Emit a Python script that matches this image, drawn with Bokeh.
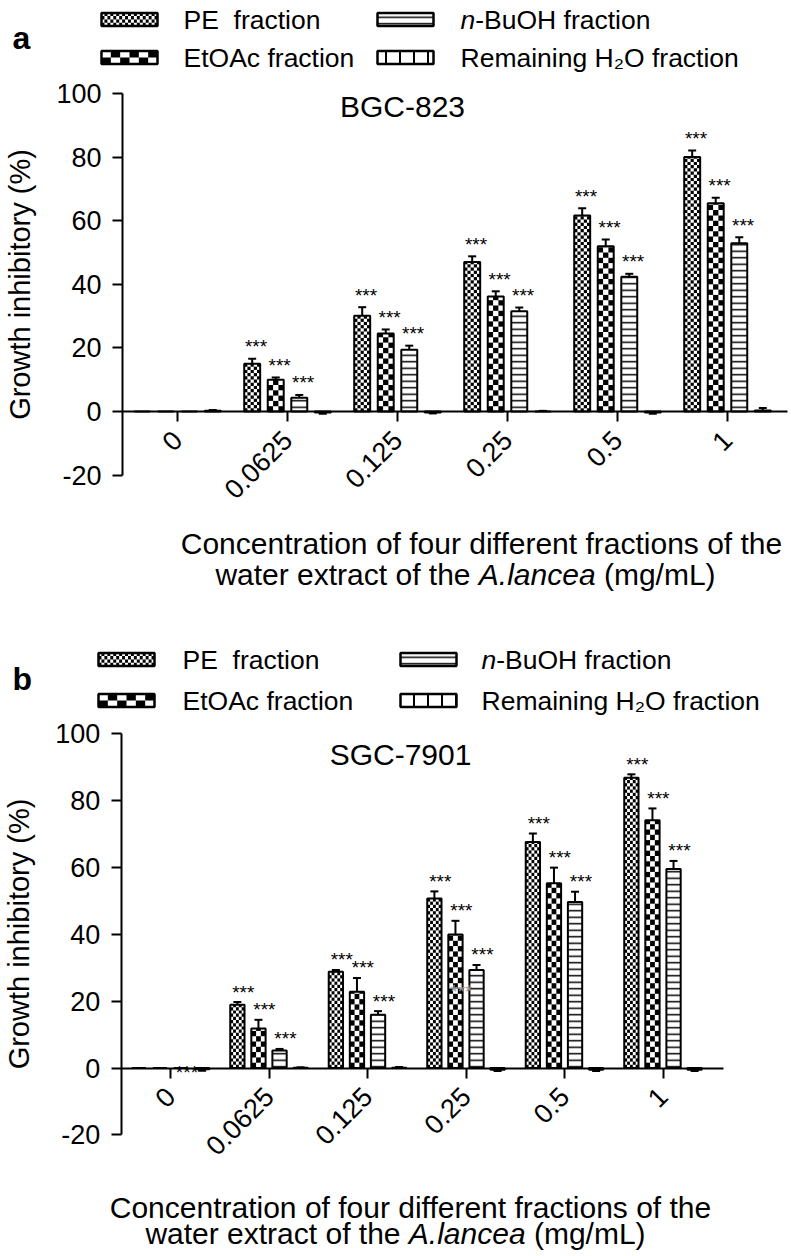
import math
from bokeh.plotting import figure
from bokeh.models import (Range1d, FixedTicker, Label, Whisker, TeeHead, ColumnDataSource)
from bokeh.layouts import column
from bokeh.core.properties import value
from bokeh.embed import file_html
from bokeh.resources import INLINE

# ---------------- data ----------------
categories = ["0", "0.0625", "0.125", "0.25", "0.5", "1"]
series_names = ["PE\u00a0 fraction", "EtOAc fraction", "n-BuOH fraction",
                "Remaining H\u2082O fraction"]

# panel a : BGC-823
pe_a = [0, 15.0, 30.1, 47.0, 61.6, 80.0]
pe_a_err = [0, 1.6, 2.7, 1.8, 2.3, 2.1]
etoac_a = [0, 10.0, 24.5, 36.2, 52.0, 65.5]
etoac_a_err = [0, 0.7, 1.3, 1.6, 2.1, 1.7]
buoh_a = [0, 4.3, 19.4, 31.5, 42.4, 52.9]
buoh_a_err = [0, 0.9, 1.3, 1.2, 0.9, 1.9]
h2o_a = [0.2, -0.3, -0.3, 0.0, -0.3, 0.3]
h2o_a_err = [0.3, 0.4, 0.3, 0.2, 0.4, 0.8]

# panel b : SGC-7901
pe_b = [0, 18.9, 28.8, 50.7, 67.6, 86.8]
pe_b_err = [0, 0.8, 0.5, 2.1, 2.5, 1.0]
etoac_b = [0, 11.8, 22.8, 39.9, 55.2, 74.1]
etoac_b_err = [0, 2.6, 4.1, 4.1, 4.7, 3.5]
buoh_b = [0, 5.2, 15.9, 29.3, 49.6, 59.5]
buoh_b_err = [0, 0.5, 1.1, 1.5, 3.1, 2.4]
h2o_b = [-0.4, 0.1, 0.1, -0.5, -0.5, -0.5]
h2o_b_err = [0.4, 0.1, 0.2, 0.4, 0.4, 0.4]

# significance marks per concentration (PE, EtOAc, n-BuOH; H2O has none)
sig_marks = ["", "***", "***", "***", "***", "***"]
# stray "***" marks printed in panel b: (concentration, series index, value, colour)
stray_b = [("0", 2, -1.3, "#111111"), ("0.25", 1, 22.8, "#9a9a9a")]

y_ticks = [-20, 0, 20, 40, 60, 80, 100]
y_tick_labels = ["-20", "0", "20", "40", "60", "80", "100"]

# ---------------- styling helpers ----------------
FONT = "Liberation Sans"
ARIAL_W = {' ': 0.278, '(': 0.333, ')': 0.333, '.': 0.278, '/': 0.278, 'A': 0.667,
           'L': 0.556, 'a': 0.556, 'c': 0.5, 'e': 0.556, 'f': 0.278, 'g': 0.556,
           'h': 0.556, 'l': 0.222, 'm': 0.833, 'n': 0.556, 'o': 0.556, 'r': 0.333,
           't': 0.278, 'w': 0.722, 'x': 0.5}


def tw(s, size):
    return sum(ARIAL_W.get(ch, 0.556) for ch in s) * size


# fill style per series: checker (columns across a bar, cell height px) or line hatch
FILL = [
    dict(kind="checker", ncols=5, cell_px=3.2, leg_ncols=19, leg_cell_px=3.3),
    dict(kind="checker", ncols=3, cell_px=5.3, leg_ncols=6, leg_cell_px=6.5),
    dict(kind="hatch", hatch_pattern="horizontal_line", hatch_scale=6.5, hatch_weight=1.5),
    dict(kind="hatch", hatch_pattern="vertical_line", hatch_scale=14, hatch_weight=2),
]

OFFSETS = [-0.321, -0.107, 0.107, 0.321]
BAR_W = 0.145
FIG_W = 790


def checker_cells(x0, x1, y0, y1, ncols, cell_h, out):
    """black cells of a checkerboard covering [x0,x1]x[y0,y1] (data units)."""
    if y1 <= y0:
        return
    cw = (x1 - x0) / ncols
    nrows = int(math.ceil((y1 - y0) / cell_h - 1e-9))
    for r in range(nrows):
        b = y0 + r * cell_h
        t = min(y1, b + cell_h)
        for c in range(ncols):
            if (r + c) % 2 == 0:
                out["l"].append(x0 + c * cw)
                out["r"].append(x0 + (c + 1) * cw)
                out["b"].append(b)
                out["t"].append(t)


def make_panel(means, errs, cell_line, letter, cfg, strays):
    oy, fh = cfg["origin_y"], cfg["height"]
    fb = oy + fh                       # page y of the figure (= frame) bottom
    cx, t0, zy, up = cfg["cat_px"], cfg["tick0_x"], cfg["zero_y"], cfg["unit_px"]

    def X(px):                         # page x -> data x
        return (px - t0) / cx

    def Y(py):                         # page y -> data y
        return (zy - py) / up

    p = figure(width=FIG_W, height=fh, output_backend="svg", toolbar_location=None,
               x_range=Range1d(X(0), X(FIG_W)), y_range=Range1d(Y(fb), Y(oy)),
               min_border=0)
    p.grid.visible = False
    p.outline_line_color = None
    p.background_fill_color = "white"
    p.border_fill_color = "white"

    cells = dict(l=[], r=[], b=[], t=[])
    star_x, star_y, star_t, star_c = [], [], [], []
    bar_sources = []
    for s in range(4):
        xs = [i + OFFSETS[s] for i in range(len(categories))]
        src = ColumnDataSource(dict(x=xs, top=means[s]))
        bar_sources.append(src)
        f = FILL[s]
        if f["kind"] == "hatch":
            p.vbar(x="x", top="top", bottom=0, width=BAR_W, source=src,
                   fill_color="white", line_color=None, hatch_color="black",
                   hatch_pattern=f["hatch_pattern"], hatch_scale=f["hatch_scale"],
                   hatch_weight=f["hatch_weight"])
        else:
            p.vbar(x="x", top="top", bottom=0, width=BAR_W, source=src,
                   fill_color="white", line_color=None)
            for xc, m in zip(xs, means[s]):
                checker_cells(xc - BAR_W / 2, xc + BAR_W / 2, 0, m, f["ncols"],
                              f["cell_px"] / up, cells)
        wx, lo, hi = [], [], []
        for i, (m, e) in enumerate(zip(means[s], errs[s])):
            if e > 0:
                wx.append(xs[i])
                lo.append(m)
                hi.append(m + e if m >= 0 else m - e)
            if s < 3 and sig_marks[i]:
                star_x.append(xs[i] + cfg["star_dx"])
                star_y.append(m + e + cfg["star_dy"])
                star_t.append(sig_marks[i])
                star_c.append("black")
        wsrc = ColumnDataSource(dict(base=wx, lower=lo, upper=hi))
        p.add_layout(Whisker(source=wsrc, base="base", lower="lower", upper="upper",
                             dimension="height", line_width=2, line_color="black",
                             lower_head=None,
                             upper_head=TeeHead(size=8, line_width=2, line_color="black")))

    # ----- legend (drawn in the frame above the bars) -----
    leg_quads = dict(l=[], r=[], b=[], t=[])
    for s in range(4):
        col, row = s // 2, s % 2
        x0 = cfg["leg_x"][col]
        yc = cfg["leg_y"][row]
        l, r = X(x0), X(x0 + cfg["leg_w"])
        b, t = Y(yc + cfg["leg_h"] / 2), Y(yc - cfg["leg_h"] / 2)
        leg_quads["l"].append(l); leg_quads["r"].append(r)
        leg_quads["b"].append(b); leg_quads["t"].append(t)
        f = FILL[s]
        if f["kind"] == "hatch":
            p.quad(left=[l], right=[r], bottom=[b], top=[t], fill_color="white",
                   line_color=None, hatch_color="black",
                   hatch_pattern=f["hatch_pattern"], hatch_scale=f["hatch_scale"],
                   hatch_weight=f["hatch_weight"])
        else:
            checker_cells(l, r, b, t, f["leg_ncols"], f["leg_cell_px"] / up, cells)

    p.quad(left="l", right="r", bottom="b", top="t", source=ColumnDataSource(cells),
           fill_color="black", line_color=None)
    for src in bar_sources:
        p.vbar(x="x", top="top", bottom=0, width=BAR_W, source=src,
               fill_alpha=0, line_color="black", line_width=2)
    p.quad(left="l", right="r", bottom="b", top="t", source=ColumnDataSource(leg_quads),
           fill_alpha=0, line_color="black", line_width=2.5)

    for cat, s, yv, col in strays:
        star_x.append(categories.index(cat) + OFFSETS[s] + cfg["star_dx"])
        star_y.append(yv)
        star_t.append("***")
        star_c.append(col)
    p.text(x="x", y="y", text="t", text_color="c",
           source=ColumnDataSource(dict(x=star_x, y=star_y, t=star_t, c=star_c)),
           text_font=value(FONT), text_font_size="19px", text_align="center",
           text_baseline="middle")

    # ----- axes: x axis at y = 0, y axis left of the first group -----
    xa = p.xaxis[0]
    xa.fixed_location = 0
    xa.bounds = (-0.5, X(cfg["x_axis_end_px"]))
    xa.ticker = FixedTicker(ticks=list(range(len(categories))))
    xa.major_label_overrides = {i: c for i, c in enumerate(categories)}
    xa.major_label_orientation = math.pi / 4
    xa.minor_tick_line_color = None
    xa.major_tick_in = 0
    xa.major_tick_out = 10
    xa.axis_line_width = 2
    xa.major_tick_line_width = 2
    xa.major_label_standoff = 14
    xa.major_label_text_font = FONT
    xa.major_label_text_font_size = "27px"
    xa.major_label_text_color = "black"

    ya = p.yaxis[0]
    ya.fixed_location = -0.5
    ya.bounds = (-20, 100)
    ya.ticker = FixedTicker(ticks=y_ticks)
    ya.major_label_overrides = dict(zip(y_ticks, y_tick_labels))
    ya.minor_tick_line_color = None
    ya.major_tick_in = 0
    ya.major_tick_out = 10
    ya.axis_line_width = 2
    ya.major_tick_line_width = 2
    ya.major_label_standoff = 11
    ya.major_label_text_font = FONT
    ya.major_label_text_font_size = "27px"
    ya.major_label_text_color = "black"
    ya.axis_label = "Growth inhibitory (%)"
    ya.axis_label_text_font = FONT
    ya.axis_label_text_font_size = "29px"
    ya.axis_label_text_font_style = "normal"
    ya.axis_label_text_color = "black"
    ya.axis_label_standoff = 17

    def lab(px, py, text, size, align="center", style="normal"):
        p.add_layout(Label(x=px, y=fb - py, x_units="screen", y_units="screen",
                           text=text, text_font=FONT, text_font_size=f"{size}px",
                           text_font_style=style, text_align=align,
                           text_baseline="middle", text_color="black"))

    # legend texts
    lsz = 26.5
    lab(cfg["leg_tx"][0], cfg["leg_y"][0], series_names[0], lsz, align="left")
    lab(cfg["leg_tx"][0], cfg["leg_y"][1], series_names[1], lsz, align="left")
    lab(cfg["leg_tx"][1], cfg["leg_y"][0], "n", lsz, align="left", style="italic")
    lab(cfg["leg_tx"][1] + tw("n", lsz), cfg["leg_y"][0], series_names[2][1:], lsz, align="left")
    lab(cfg["leg_tx"][1], cfg["leg_y"][1], series_names[3], lsz, align="left")

    lab(cfg["letter_x"], cfg["letter_y"], letter, 32, align="left", style="bold")
    lab(cfg["title_x"], cfg["title_y"], cell_line, 30)
    lab(cfg["xt1_x"], cfg["xt1_y"], "Concentration of four different fractions of the", 30)
    parts = [("water extract of the", "normal"), ("A.lancea", "italic"), ("(mg/mL)", "normal")]
    total = sum(tw(t, 30) for t, _ in parts) + 2 * tw(" ", 30)
    x0 = cfg["xt2_x"] - total / 2
    for t, st in parts:
        lab(x0, cfg["xt2_y"], t, 30, align="left", style=st)
        x0 += tw(t, 30) + tw(" ", 30)
    return p


# layout, in page pixels of the reference
cfg_a = dict(origin_y=0, height=627, tick0_x=177, cat_px=110, zero_y=411, unit_px=3.18,
             x_axis_end_px=787, star_dx=0.035, star_dy=3.8,
             leg_x=[101, 377], leg_y=[19, 57], leg_w=56, leg_h=13, leg_tx=[183, 460],
             letter_x=12, letter_y=37, title_x=402, title_y=106,
             xt1_x=481, xt1_y=543, xt2_x=465, xt2_y=574)
cfg_b = dict(origin_y=627, height=628, tick0_x=170, cat_px=98.5, zero_y=1067.5,
             unit_px=3.345, x_axis_end_px=723, star_dx=0.06, star_dy=3.0,
             leg_x=[98, 400], leg_y=[659, 700], leg_w=56, leg_h=13, leg_tx=[182, 481],
             letter_x=12, letter_y=678, title_x=400, title_y=754,
             xt1_x=410, xt1_y=1207, xt2_x=395, xt2_y=1233)

pa = make_panel([pe_a, etoac_a, buoh_a, h2o_a], [pe_a_err, etoac_a_err, buoh_a_err, h2o_a_err],
                "BGC-823", "a", cfg_a, [])
pb = make_panel([pe_b, etoac_b, buoh_b, h2o_b], [pe_b_err, etoac_b_err, buoh_b_err, h2o_b_err],
                "SGC-7901", "b", cfg_b, stray_b)

layout = column(pa, pb, spacing=0)
open("out.html", "w").write(file_html(layout, INLINE, title="Growth inhibitory"))
